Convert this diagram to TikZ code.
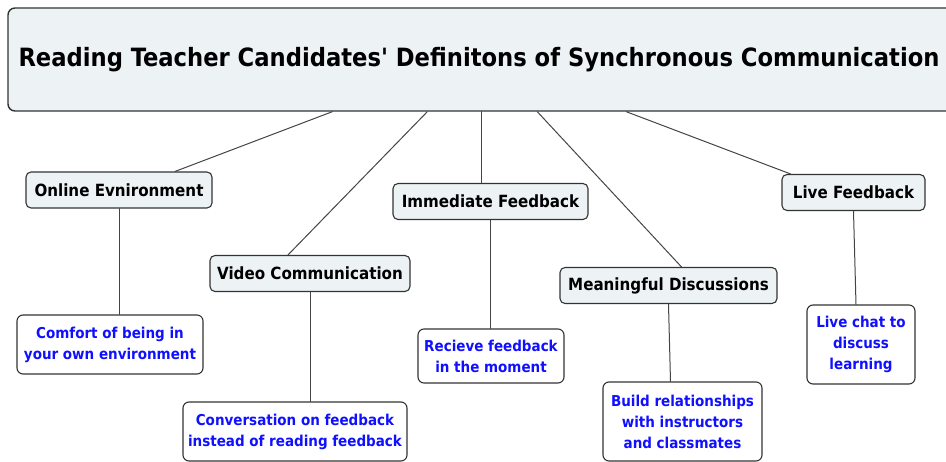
\documentclass[tikz,border=0pt]{standalone}
\usepackage{fontspec}
\setmainfont{DejaVu Sans Condensed}[Ligatures=TeXOff]
\usetikzlibrary{calc}
\definecolor{boxfill}{HTML}{EDF3F5}
\definecolor{leafblue}{HTML}{1010FF}
\definecolor{edge}{HTML}{333333}
\definecolor{linkgray}{HTML}{444444}
\tikzstyle{every node}=[font=\bfseries]
\tikzstyle{every path}=[line width=0.9pt,line cap=round,line join=round]
\tikzstyle{titlebox}=[draw=edge,fill=boxfill,rounded corners=7pt,line width=1.4pt,inner sep=0pt,
  minimum width=950pt,minimum height=103pt,font=\bfseries\fontsize{25.2}{29}\selectfont]
\tikzstyle{topic}=[draw=edge,fill=boxfill,rounded corners=5pt,line width=1.1pt,inner sep=0pt,
  minimum height=36pt,font=\bfseries\fontsize{16.8}{19}\selectfont]
\tikzstyle{leaf}=[draw=edge,fill=white,rounded corners=6pt,line width=1.1pt,inner sep=0pt,
  text=leafblue,align=center,font=\bfseries\fontsize{15}{21}\selectfont]
\tikzstyle{link}=[draw=linkgray,line width=1pt]

\begin{document}
\begin{tikzpicture}[x=1pt,y=-1pt]
  \useasboundingbox (0,0) rectangle (946,462);
  \node[titlebox] (title) at (483,59.5) {\hspace*{-4pt}Reading Teacher Candidates' Definitons of Synchronous Communication\hspace*{4pt}};

  \node[topic,minimum width=186pt] (online) at (119,190) {Online Evnironment};
  \node[topic,minimum width=200pt] (video) at (310,273.5) {Video Communication};
  \node[topic,minimum width=195pt] (immediate) at (490.5,201.5) {Immediate Feedback};
  \node[topic,minimum width=217pt] (meaning) at (668.5,285.5) {Meaningful Discussions};
  \node[topic,minimum width=143pt] (live) at (853.5,192.5) {Live Feedback};

  \node[leaf,minimum width=186pt,minimum height=59pt] (comfort) at (110,344.5)
    {Comfort of being in\\your own environment};
  \node[leaf,minimum width=224pt,minimum height=59pt] (convo) at (295,431.5)
    {Conversation on feedback\\instead of reading feedback};
  \node[leaf,minimum width=146pt,minimum height=54pt] (recieve) at (491,356)
    {Recieve feedback\\in the moment};
  \node[leaf,minimum width=159pt,minimum height=79pt] (build) at (682.5,421.5)
    {Build relationships\\with instructors\\and classmates};
  \node[leaf,minimum width=108pt,minimum height=79pt] (chat) at (861,344.5)
    {Live chat to\\discuss\\learning};

  \coordinate (t1) at ($(title.south west)+(325,0)$);
  \coordinate (t2) at ($(title.south west)+(420,0)$);
  \coordinate (t3) at ($(title.south west)+(474,0)$);
  \coordinate (t4) at ($(title.south west)+(530,0)$);
  \coordinate (t5) at ($(title.south west)+(619,0)$);

  \draw[link] (t1) -- ([xshift=56pt]online.north);
  \draw[link] (t2) -- ([xshift=-22pt]video.north);
  \draw[link] (t3) -- (t3 |- immediate.north);
  \draw[link] (t4) -- ([xshift=13pt]meaning.north);
  \draw[link] (t5) -- ([xshift=-63pt]live.north);

  \draw[link] (online.south) -- (online.south |- comfort.north);
  \draw[link] (video.south) -- (video.south |- convo.north);
  \draw[link] (immediate.south) -- (immediate.south |- recieve.north);
  \draw[link] (meaning.south) -- ([xshift=-12pt]build.north);
  \draw[link] (live.south) -- ([xshift=-5pt]chat.north);
\end{tikzpicture}
\end{document}
